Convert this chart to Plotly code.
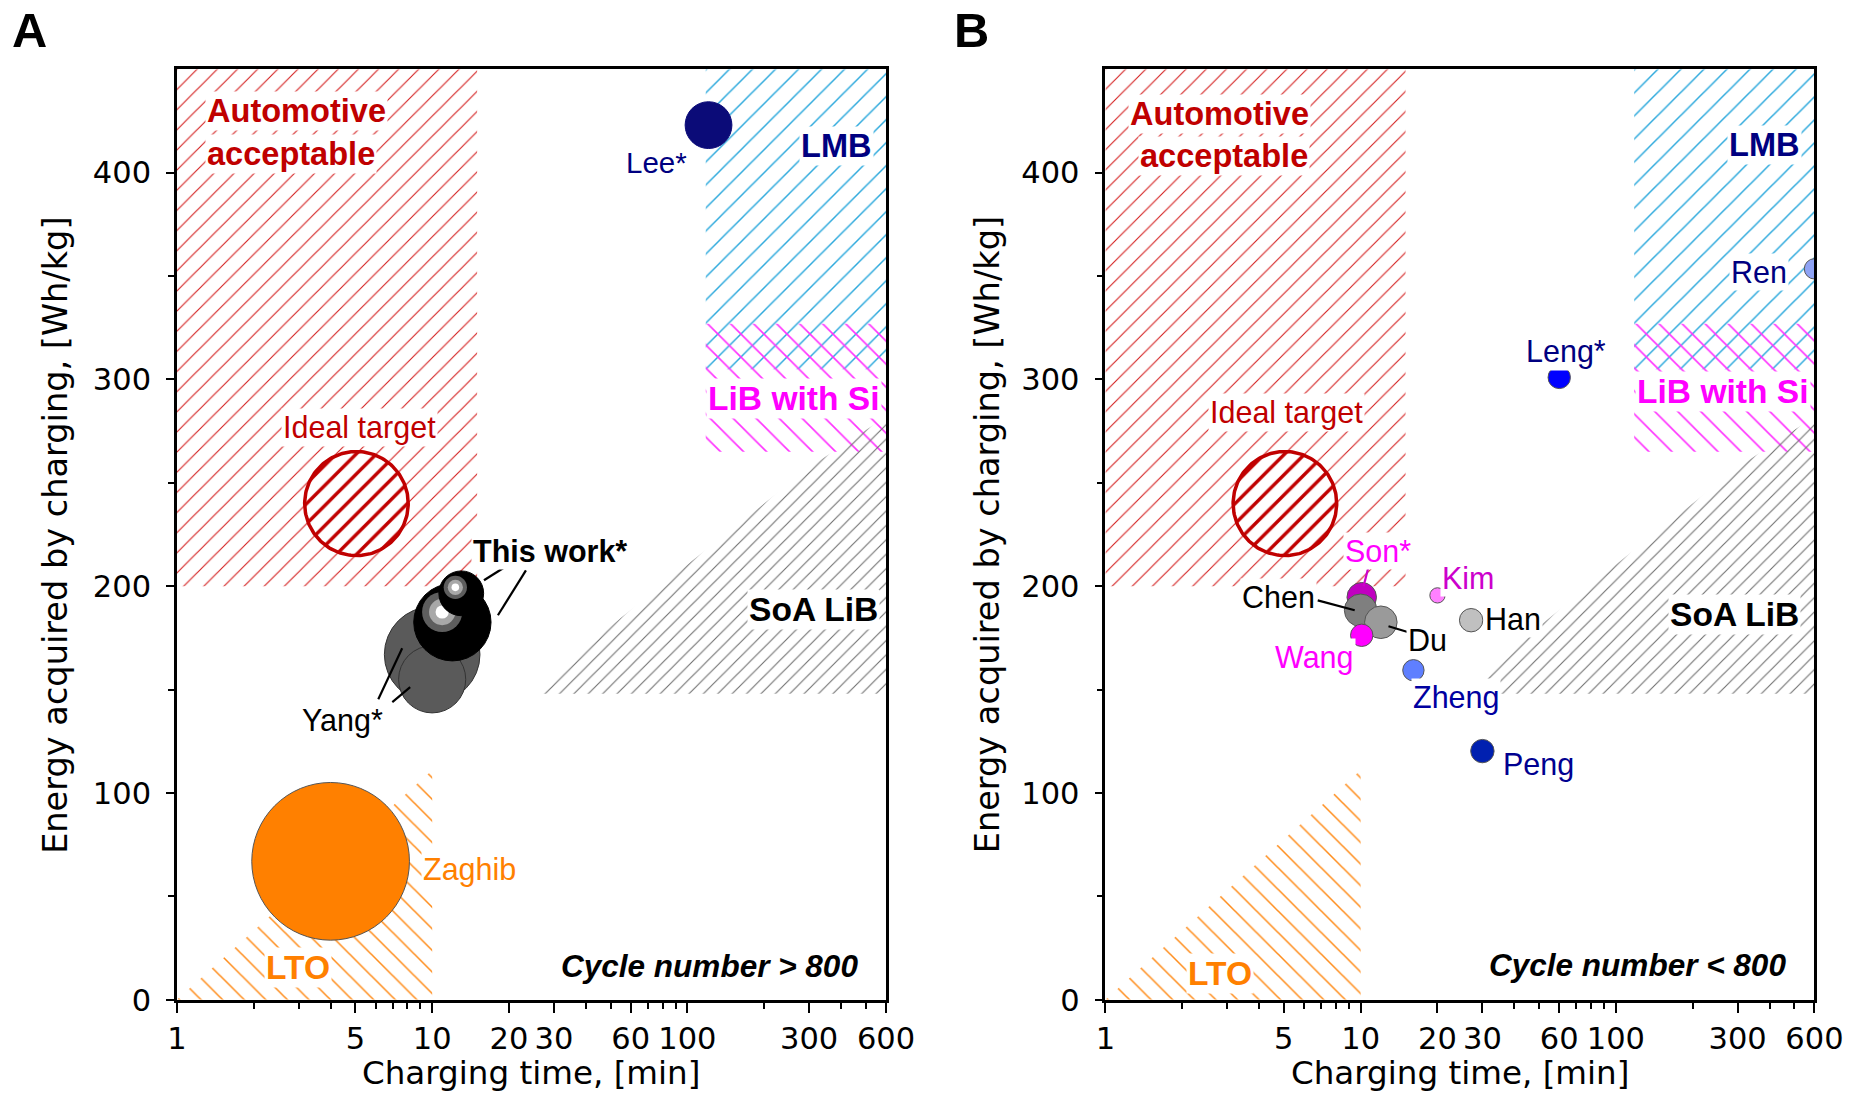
import numpy as np
import plotly.graph_objects as go

# ---------------- page geometry (target pixel positions) ----------------
W, H = 1850, 1111
# empirical correction of the rendered page scale
SX, OX, SY, OY = 0.9816, 7.1, 0.9853, -0.9
K = 1 / 0.983


def px_x(p):
    return (p - OX) / SX


def px_y(p):
    return (p - OY) / SY


REF_LEFT = {"A": 174.5, "B": 1105.5}
REF_W = 711
REF_T, REF_B = 68.5, 1000.5
PLOT_LEFT = {k: px_x(v) for k, v in REF_LEFT.items()}
PLOT_W = REF_W / SX
PLOT_T, PLOT_B = px_y(REF_T), px_y(REF_B)

X_MIN, X_MAX = 1, 600
Y_MIN, Y_MAX = 0, 450
PX_DEC = PLOT_W / np.log10(X_MAX / X_MIN)
PX_Y = (PLOT_B - PLOT_T) / (Y_MAX - Y_MIN)

# ---------------- data ----------------
x_tickvals = [1, 5, 10, 20, 30, 60, 100, 300, 600]
x_ticktext = ["1", "5", "10", "20", "30", "60", "100", "300", "600"]
x_minor = [2, 3, 4, 6, 7, 8, 9, 40, 50, 70, 80, 90, 200, 400, 500]
y_tickvals = [0, 100, 200, 300, 400]
y_minor = [50, 150, 250, 350]

# regions
auto_x = [1, 15, 15, 1]
auto_y = [200, 200, 450, 450]
lmb_x = [118, 600, 600, 118]
lmb_y = [305, 305, 450, 450]
si_x = [118, 600, 600, 118]
si_y = [265, 265, 327, 327]
soa_x = [25, 600, 600, 305, 158, 80, 40]
soa_y = [148, 148, 282, 258, 230, 201, 171]
lto_x = [1, 10, 10]
lto_y = [0, 0, 111]
ideal_x, ideal_y, ideal_r = 5.05, 240, 52

# panel A bubbles (cycle number > 800)
a_names = ["Lee*", "Zaghib", "Yang* a", "Yang* b", "This work* a", "This work* b"]
a_x = [121, 4.0, 10.0, 10.0, 12.0, 13.0]
a_y = [423, 67, 167, 155, 182.6, 196.6]
a_size = [46, 155, 94, 66, 76, 44]
a_color = ["#0b0b78", "#ff8000", "#5a5a5a", "#5a5a5a", "#000000", "#000000"]
a_line = ["#0b0b78", "#555555", "#333333", "#333333", "#000000", "#000000"]
a_shiny = [False, False, False, False, True, True]

# panel B bubbles (cycle number < 800)
b_names = ["Ren", "Leng*", "Son*", "Chen", "Du", "Wang", "Kim", "Han", "Zheng", "Peng"]
b_x = [600, 60, 10.1, 10.0, 12.0, 10.1, 20.0, 27.1, 16.1, 30.0]
b_y = [353.5, 301, 194.7, 188.4, 182.6, 176.3, 195.6, 183.6, 159.4, 120.3]
b_size = [20, 22, 29, 32, 32, 22, 15, 23, 21, 23]
b_color = ["#8fa3f5", "#0000ff", "#c000c0", "#7f7f7f", "#9a9a9a", "#ff00ff",
           "#ff80ff", "#c0c0c0", "#5f7fff", "#0020b0"]

# labels (text, x, y, color, size, style)
common_labels_A = [
    ("Automotive", 2.94, 430, "#c00000", 32, "b"),
    ("acceptable", 2.81, 409, "#c00000", 32, "b"),
    ("Ideal target", 5.19, 277, "#c00000", 30, ""),
    ("LMB", 385, 413, "#000080", 32, "b"),
    ("LiB with Si", 262, 291, "#ff00ff", 33, "b"),
    ("SoA LiB", 311, 189, "#000000", 33, "b"),
    ("LTO", 2.97, 15.5, "#ff8000", 33, "b"),
    ("Cycle number > 800", 122, 16.4, "#000000", 31, "bi"),
]
point_labels_A = [
    ("Zaghib", 13.95, 63, "#ff8000", 30, ""),
    ("Lee*", 75.7, 405, "#000080", 29, ""),
    ("This work*", 28.9, 217, "#000000", 30, "b"),
    ("Yang*", 4.45, 135, "#000000", 30, ""),
]
common_labels_B = [
    ("Automotive", 2.81, 428.5, "#c00000", 32, "b"),
    ("acceptable", 2.92, 408, "#c00000", 32, "b"),
    ("Ideal target", 5.14, 284, "#c00000", 30, ""),
    ("LMB", 382, 413.5, "#000080", 32, "b"),
    ("LiB with Si", 262, 294, "#ff00ff", 33, "b"),
    ("SoA LiB", 292, 186.5, "#000000", 33, "b"),
    ("LTO", 2.81, 12.6, "#ff8000", 33, "b"),
    ("Cycle number < 800", 122, 17, "#000000", 31, "bi"),
]
point_labels_B = [
    ("Ren", 365, 352, "#000080", 30, ""),
    ("Leng*", 63.8, 313.5, "#000080", 30, ""),
    ("Son*", 11.75, 217, "#ff00ff", 30, ""),
    ("Kim", 26.4, 204, "#cc00cc", 30, ""),
    ("Chen", 4.78, 195, "#000000", 30, ""),
    ("Du", 18.3, 174, "#000000", 30, ""),
    ("Han", 39.6, 184, "#000000", 30, ""),
    ("Wang", 6.61, 165.7, "#ff00ff", 30, ""),
    ("Zheng", 23.7, 146, "#0000a0", 30, ""),
    ("Peng", 49.6, 114, "#000090", 30, ""),
]

# leader lines: (x0, y0, x1, y1, color)
leaders_A = [
    (19.5, 209.7, 15.96, 202.9, "#000000"),
    (23.3, 207.7, 18.1, 186.0, "#000000"),
    (7.63, 170.0, 6.15, 145.4, "#000000"),
    (8.2, 151.2, 6.98, 144.0, "#000000"),
]
leaders_B = [
    (10.75, 209.7, 10.27, 200.0, "#cc00cc"),
    (6.79, 193.2, 9.48, 188.4, "#000000"),
    (12.86, 180.7, 15.4, 177.8, "#000000"),
]

fig = go.Figure()


def region(xs, ys, shape, color, size, sol, xa, ya, bg="rgba(0,0,0,0)"):
    fig.add_trace(go.Scatter(
        x=list(xs) + [xs[0]], y=list(ys) + [ys[0]], mode="lines", fill="toself",
        line=dict(width=0, color="rgba(0,0,0,0)"), fillcolor="rgba(0,0,0,0)",
        fillpattern=dict(shape=shape, fgcolor=color, bgcolor=bg, size=size * K,
                         solidity=sol, fillmode="replace"),
        xaxis=xa, yaxis=ya, hoverinfo="skip", showlegend=False))


def common(xa, ya):
    region(auto_x, auto_y, "/", "#d42020", 14, 0.08, xa, ya)
    region(lmb_x, lmb_y, "/", "#2aa8dc", 16, 0.09, xa, ya)
    region(si_x, si_y, "\\", "#ff33ff", 16, 0.1, xa, ya)
    region(soa_x, soa_y, "/", "#707070", 10, 0.11, xa, ya)
    region(lto_x, lto_y, "\\", "#ff8c1a", 15, 0.1, xa, ya)
    t = np.linspace(0, 2 * np.pi, 181)
    r = ideal_r * K
    cx = 10 ** (np.log10(ideal_x) + r * np.cos(t) / PX_DEC)
    cy = ideal_y + r * np.sin(t) / PX_Y
    fig.add_trace(go.Scatter(
        x=cx, y=cy, mode="lines", fill="toself",
        line=dict(width=3.5, color="#c00000"), fillcolor="white",
        fillpattern=dict(shape="/", fgcolor="#c00000", bgcolor="white", size=14 * K,
                         solidity=0.24, fillmode="replace"),
        xaxis=xa, yaxis=ya, hoverinfo="skip", showlegend=False))


def leaders(lst, xa, ya):
    for x0, y0, x1, y1, c in lst:
        fig.add_trace(go.Scatter(x=[x0, x1], y=[y0, y1], mode="lines",
                                 line=dict(color=c, width=2.2), xaxis=xa, yaxis=ya,
                                 hoverinfo="skip", showlegend=False))


# ---------- panel A ----------
common("x", "y")
for i in range(len(a_x)):
    fig.add_trace(go.Scatter(
        x=[a_x[i]], y=[a_y[i]], mode="markers", name=a_names[i],
        marker=dict(size=a_size[i] * K, color=a_color[i], opacity=1,
                    line=dict(width=1, color=a_line[i])),
        xaxis="x", yaxis="y", showlegend=False))
    if a_shiny[i]:
        r = a_size[i] * K / 2
        hx = a_x[i] * 10 ** (-0.27 * r / PX_DEC)
        hy = a_y[i] + 0.27 * r / PX_Y
        for frac, col in [(0.52, "#5e5e5e"), (0.34, "#a8a8a8"), (0.17, "#ffffff")]:
            fig.add_trace(go.Scatter(
                x=[hx], y=[hy], mode="markers",
                marker=dict(size=a_size[i] * K * frac, color=col, line=dict(width=0)),
                xaxis="x", yaxis="y", hoverinfo="skip", showlegend=False))
leaders(leaders_A, "x", "y")

# ---------- panel B ----------
common("x2", "y2")
for i in range(len(b_x)):
    fig.add_trace(go.Scatter(
        x=[b_x[i]], y=[b_y[i]], mode="markers", name=b_names[i],
        marker=dict(size=b_size[i] * K, color=b_color[i],
                    line=dict(width=1, color="#555555")),
        xaxis="x2", yaxis="y2", showlegend=False))
leaders(leaders_B, "x2", "y2")

# ---------- annotations ----------
ann = []


def lab(lst, xref, yref):
    for text, x, y, col, size, style in lst:
        t = text.replace(">", "&gt;").replace("<", "&lt;")
        if "i" in style:
            t = "<i>" + t + "</i>"
        if "b" in style:
            t = "<b>" + t + "</b>"
        ann.append(dict(text=t, x=np.log10(x), y=y, xref=xref, yref=yref,
                        showarrow=False, xanchor="center", yanchor="middle",
                        font=dict(family="Liberation Sans, Arial", size=size * K, color=col),
                        bgcolor=None if "i" in style else "white", borderpad=1))


lab(common_labels_A, "x", "y")
lab(point_labels_A, "x", "y")
lab(common_labels_B, "x2", "y2")
lab(point_labels_B, "x2", "y2")

xt_font = dict(family="DejaVu Sans", size=32 * K, color="black")
yt_font = dict(family="DejaVu Sans", size=33 * K, color="black")
for key, label, ytx, letx in (("A", "A", 52, 27), ("B", "B", 987, 971)):
    cx = px_x(REF_LEFT[key] + REF_W / 2) / W
    ann.append(dict(text="Charging time, [min]", x=cx, y=0.0, yshift=0,
                    xref="paper", yref="paper", showarrow=False, xanchor="center",
                    yanchor="bottom", borderpad=0, font=xt_font))
    ann.append(dict(text="Energy acquired by charging, [Wh/kg]", x=px_x(ytx) / W,
                    y=1 - px_y(535) / H, xref="paper", yref="paper", showarrow=False,
                    textangle=-90, xanchor="center", yanchor="middle", font=yt_font))
    ann.append(dict(text="<b>" + label + "</b>", x=px_x(letx) / W,
                    y=1 - px_y(29) / H, xref="paper", yref="paper", showarrow=False,
                    xanchor="center", yanchor="middle",
                    font=dict(family="Liberation Sans, Arial", size=48 * K, color="black")))


def xaxis_cfg(key, anchor):
    l = PLOT_LEFT[key]
    return dict(type="log", range=[np.log10(X_MIN), np.log10(X_MAX)],
                domain=[l / W, (l + PLOT_W) / W], anchor=anchor,
                tickmode="array", tickvals=x_tickvals, ticktext=x_ticktext,
                ticks="outside", ticklen=10, tickwidth=2, tickcolor="black",
                minor=dict(tickmode="array", tickvals=x_minor, ticks="outside",
                           ticklen=6, tickwidth=1.5, tickcolor="black", showgrid=False),
                showline=True, linewidth=2.5, linecolor="black", mirror=True,
                showgrid=False, zeroline=False, ticklabelstandoff=0,
                tickfont=dict(family="DejaVu Sans", size=30 * K, color="black"))


def yaxis_cfg(anchor):
    return dict(range=[Y_MIN, Y_MAX], domain=[1 - PLOT_B / H, 1 - PLOT_T / H],
                anchor=anchor, tickmode="array", tickvals=y_tickvals,
                ticks="outside", ticklen=8, tickwidth=2, tickcolor="black",
                minor=dict(tickmode="array", tickvals=y_minor, ticks="outside",
                           ticklen=6, tickwidth=1.5, tickcolor="black", showgrid=False),
                showline=True, linewidth=2.5, linecolor="black", mirror=True,
                showgrid=False, zeroline=False, ticklabelstandoff=9,
                tickfont=dict(family="DejaVu Sans", size=30 * K, color="black"))


fig.update_layout(
    width=W, height=H, margin=dict(l=0, r=0, t=0, b=0),
    paper_bgcolor="white", plot_bgcolor="white", showlegend=False,
    xaxis=xaxis_cfg("A", "y"), yaxis=yaxis_cfg("x"),
    xaxis2=xaxis_cfg("B", "y2"), yaxis2=yaxis_cfg("x2"),
    annotations=ann,
)

fig.write_html("out.html")
